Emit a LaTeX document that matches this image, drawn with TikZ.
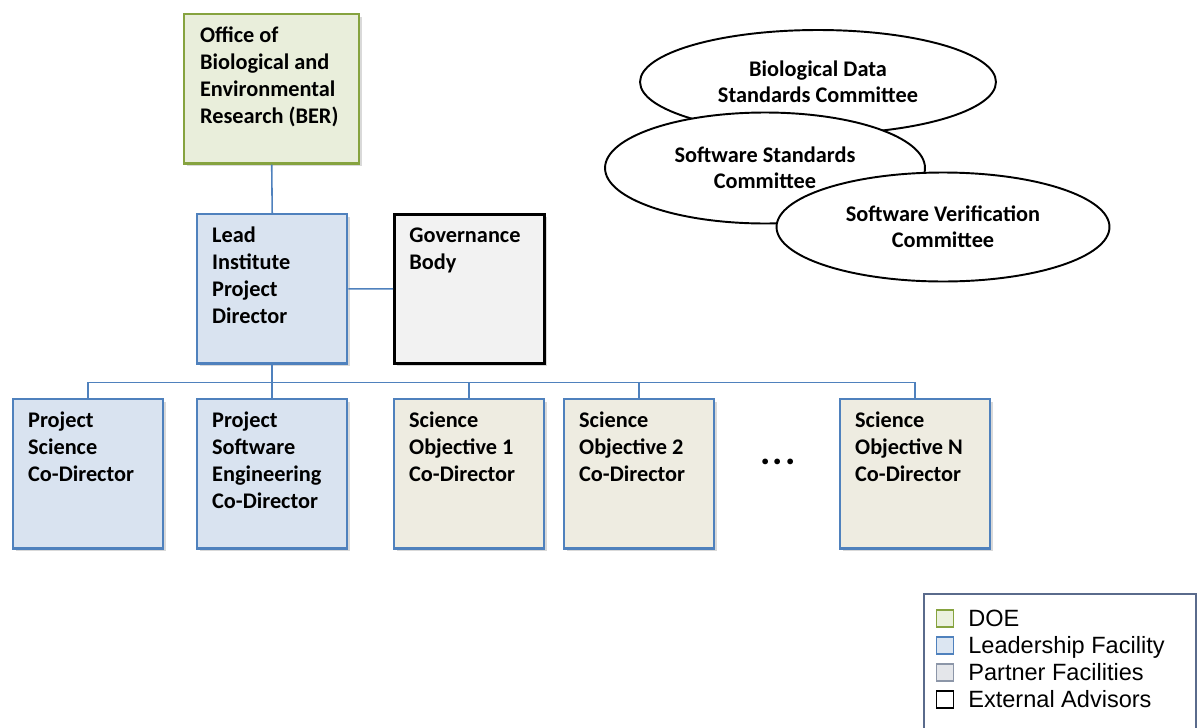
\documentclass[tikz,border=0pt]{standalone}
\usepackage{fontspec}
\setmainfont{Carlito}
\newfontfamily\legendfont{Liberation Sans}
\usetikzlibrary{shapes.geometric,shadows}
\definecolor{leadblue}{HTML}{4F81BD}
\definecolor{leadfill}{HTML}{D9E3F0}
\definecolor{partfill}{HTML}{EEECE1}
\definecolor{doegreen}{HTML}{86A33F}
\definecolor{doefill}{HTML}{E9EEDB}
\definecolor{govfill}{HTML}{F2F2F2}
\definecolor{legendframe}{HTML}{5A6B8C}
\definecolor{doeswatch}{HTML}{EBF1DE}
\definecolor{leadswatch}{HTML}{DCE6F2}
\definecolor{partgray}{HTML}{8C96A8}
\definecolor{partswatch}{HTML}{E4E6EA}

\begin{document}
\begin{tikzpicture}
  [x=0.02cm,y=-0.02cm,
   orgbox/.style={draw=leadblue,line width=1.4pt,fill=leadfill,anchor=north west,
     inner xsep=8.5pt,inner ysep=0pt,text width=3cm-17pt,text height=16pt,text depth=68.9pt,
     align=flush left,font=\bfseries\fontsize{12.7}{15.4}\selectfont,
     drop shadow={shadow xshift=1.6pt,shadow yshift=-1.6pt,opacity=0.3}},
   partbox/.style={orgbox,fill=partfill},
   govbox/.style={orgbox,draw=black,line width=1.6pt,fill=govfill},
   committee/.style={ellipse,draw,line width=1.1pt,fill=white,align=center,inner sep=0pt,
     font=\bfseries\fontsize{12.7}{14.8}\selectfont},
   link/.style={draw=leadblue,line width=0.9pt},
   swatch/.style={draw,line width=1pt,minimum size=0.34cm,inner sep=0pt},
   legtext/.style={anchor=base west,inner sep=0pt,font=\legendfont\fontsize{13.4}{15}\selectfont}]
  \useasboundingbox (0,0) rectangle (1202,727);
  \clip (0,0) rectangle (1202,727);

  \node[orgbox,draw=doegreen,fill=doefill,inner xsep=9pt,text width=3.5cm-18pt] (ber) at (183,13)
    {Office of\\Biological and\\Environmental\\Research (BER)};
  \node[orgbox] (lead) at (196,213) {Lead\\Institute\\Project\\Director};
  \node[govbox] (gov) at (393,213) {Governance\\Body};
  \node[orgbox] (psci) at (12,398) {Project\\Science\\Co-Director};
  \node[orgbox] (psw) at (196,398) {Project\\Software\\Engineering\\Co-Director};
  \node[partbox] (obj1) at (393,398) {Science\\Objective 1\\Co-Director};
  \node[partbox] (obj2) at (563,398) {Science\\Objective 2\\Co-Director};
  \node[font=\bfseries\fontsize{22}{22}\selectfont] (dots) at (778,462) {.\hspace{1.4pt}.\hspace{1.4pt}.};
  \node[partbox] (objn) at (839,398) {Science\\Objective N\\Co-Director};

  \draw[link] (ber.south) -- (lead.north);
  \draw[link] (lead) -- (gov);
  \foreach \to in {psci,psw,obj1,obj2,objn}
    \draw[link] (lead.south) -- ++(0,18) -| (\to.north);

  \node[committee,minimum width=7.12cm,minimum height=2.08cm] (biodata) at (818,82)
    {Biological Data\\Standards Committee};
  \node[committee,minimum width=6.4cm,minimum height=2.22cm] (swstd) at (765,168)
    {Software Standards\\Committee};
  \node[committee,minimum width=6.66cm,minimum height=2.18cm] (swver) at (943,227)
    {Software Verification\\Committee};

  \node[draw=legendframe,line width=1pt,fill=white,anchor=north west,
    minimum width=5.44cm,minimum height=3.2cm] (legend) at (923,593) {};
  \foreach \i/\bc/\fc/\txt in {0/doegreen/doeswatch/DOE,1/leadblue/leadswatch/Leadership Facility,
      2/partgray/partswatch/Partner Facilities,3/black/white/External Advisors} {
    \node[swatch,draw=\bc,fill=\fc] (sw\i) at (945,618.5+27*\i) {};
    \node[legtext] (lt\i) at (968,626+27*\i) {\txt};
  }
\end{tikzpicture}
\end{document}
